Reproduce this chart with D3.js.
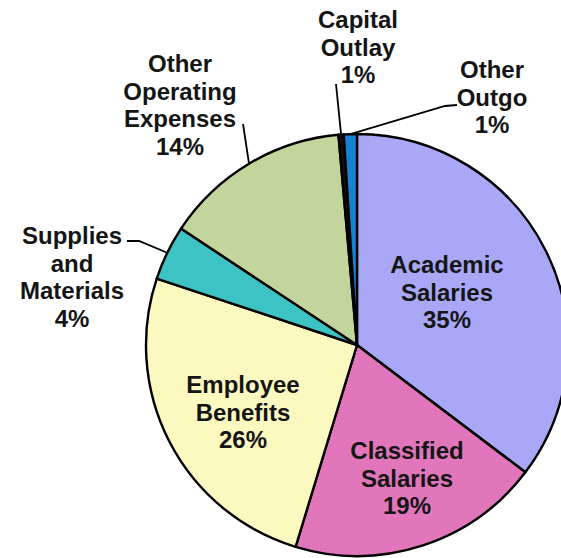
<!DOCTYPE html>
<html>
  <head>
    <title>Expenditures pie</title>
    <meta charset="utf-8" />
    <script src="https://cdn.jsdelivr.net/npm/d3@7"></script>
    <style>
      body {
        margin: 0;
        background: #fff;
      }
      text {
        font-family: "Liberation Sans", Arial, sans-serif;
        font-weight: bold;
        font-size: 24px;
        fill: #151515;
      }
    </style>
  </head>
  <body>
    <script>
      // slices, clockwise from 12 o'clock
      var categories = [
        "Academic Salaries",
        "Classified Salaries",
        "Employee Benefits",
        "Supplies and Materials",
        "Other Operating Expenses",
        "Capital Outlay",
        "Other Outgo",
      ];
      var values = [35.3, 19.4, 25.4, 4.2, 14.3, 0.4, 1.0];
      var pctLabels = ["35%", "19%", "26%", "4%", "14%", "1%", "1%"];
      var labelLines = [
        ["Academic", "Salaries"],
        ["Classified", "Salaries"],
        ["Employee", "Benefits"],
        ["Supplies", "and", "Materials"],
        ["Other", "Operating", "Expenses"],
        ["Capital", "Outlay"],
        ["Other", "Outgo"],
      ];
      var colors = [
        "#a9a8f7",
        "#e176bb",
        "#fbf9c0",
        "#3dc3c4",
        "#c2d59c",
        "#101010",
        "#1683d2",
      ];

      var width = 561,
        height = 558;
      var cx = 357,
        cy = 345,
        radius = 211;
      var lineH = 27.5;

      // where each label block starts (baseline of first line) - layout only
      var labelPos = [
        { x: 447, y: 273 },
        { x: 407, y: 459 },
        { x: 243, y: 393 },
        { x: 72, y: 244 },
        { x: 180, y: 72 },
        { x: 358, y: 28 },
        { x: 492, y: 78 },
      ];
      // leader line start points (label side), null = no leader
      var leaderStart = [
        null,
        null,
        null,
        [[127, 241], [139, 241]],
        [[243, 124]],
        [[336, 84]],
        [[457, 105], [445, 106]],
      ];

      var svg = d3
        .select("body")
        .append("svg")
        .attr("width", width)
        .attr("height", height);

      var pie = d3
        .pie()
        .sort(null)
        .value(function (d) {
          return d;
        });
      var arcs = pie(values);

      var arc = d3.arc().innerRadius(0).outerRadius(radius);
      var edgeArc = d3.arc().innerRadius(radius).outerRadius(radius);

      var g = svg.append("g").attr("transform", "translate(" + cx + "," + cy + ")");

      g.selectAll("path.slice")
        .data(arcs)
        .enter()
        .append("path")
        .attr("class", "slice")
        .attr("d", arc)
        .attr("fill", function (d, i) {
          return colors[i];
        })
        .attr("stroke", "#000")
        .attr("stroke-width", 2.4)
        .attr("stroke-linejoin", "round");

      // leader lines
      var line = d3.line();
      arcs.forEach(function (d, i) {
        if (!leaderStart[i]) return;
        var end = edgeArc.centroid(d);
        var pts = leaderStart[i].map(function (p) {
          return [p[0] - cx, p[1] - cy];
        });
        pts.push(end);
        g.append("path")
          .attr("d", line(pts))
          .attr("fill", "none")
          .attr("stroke", "#000")
          .attr("stroke-width", 1.8);
      });

      // labels
      var labels = svg
        .selectAll("text.lbl")
        .data(categories)
        .enter()
        .append("text")
        .attr("class", "lbl")
        .attr("text-anchor", "middle")
        .attr("x", function (d, i) {
          return labelPos[i].x;
        })
        .attr("y", function (d, i) {
          return labelPos[i].y;
        });

      labels.each(function (d, i) {
        var t = d3.select(this);
        var rows = labelLines[i].concat([pctLabels[i]]);
        rows.forEach(function (r, k) {
          t.append("tspan")
            .attr("x", labelPos[i].x)
            .attr("dy", k === 0 ? 0 : lineH)
            .text(r);
        });
      });
    </script>
  </body>
</html>
